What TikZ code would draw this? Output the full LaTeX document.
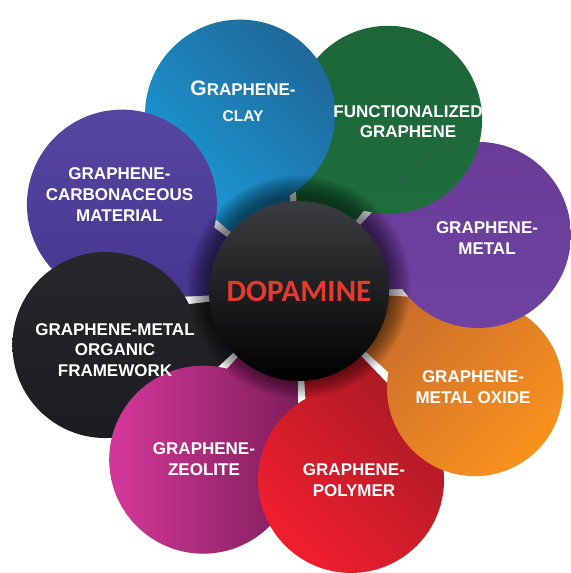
\documentclass[tikz,border=0pt]{standalone}
\usepackage{fontspec}
\setmainfont{Liberation Sans}
\newfontfamily\hubfont{Carlito}

\definecolor{clayT}{HTML}{1F6A9C}
\definecolor{clayB}{HTML}{1AA4E2}
\definecolor{greenT}{HTML}{1C6638}
\definecolor{greenB}{HTML}{207040}
\definecolor{metalT}{HTML}{6A3C98}
\definecolor{metalB}{HTML}{6E42A0}
\definecolor{oxideT}{HTML}{C0682E}
\definecolor{oxideB}{HTML}{F8901E}
\definecolor{polyT}{HTML}{981A22}
\definecolor{polyB}{HTML}{EE1E2E}
\definecolor{zeoT}{HTML}{7E1E5A}
\definecolor{zeoB}{HTML}{D4389A}
\definecolor{mofT}{HTML}{26272A}
\definecolor{mofB}{HTML}{1B1C1F}
\definecolor{carbT}{HTML}{5546A0}
\definecolor{carbB}{HTML}{463690}
\definecolor{hubred}{HTML}{E63A2E}
\definecolor{hubtop}{HTML}{3C3D40}

\tikzset{
  lbl/.style={text=white, font=\bfseries\fontsize{17}{20.8}\selectfont, align=center, inner sep=0pt},
  hub/.style={circle, minimum size=180pt, inner sep=0pt, top color=hubtop, bottom color=black,
    text=hubred, font=\hubfont\bfseries\fontsize{31}{31}\selectfont},
}

\begin{document}
\begin{tikzpicture}[x=1pt,y=1pt]
  % page
  \fill[white] (0,0) rectangle (568,573);
  \coordinate (cen) at (299,282);
  % eight petals, each one over its clockwise neighbour
  % blob angle / distance / radius / clockwise edge / top colour / bottom colour / shading angle
  \foreach \ang/\dist/\rad/\cw/\ca/\cb/\sa [count=\i] in {
      62.5/193/94/51.1/greenT/greenB/0,
      108.5/186/95/95.6/clayT/clayB/-45,
      154/197/95/143.2/carbT/carbB/0,
      -164.4/201/93/-173.2/mofT/mofB/0,
      -119.6/194/94/-132.8/zeoT/zeoB/-90,
      -74.6/196/93/-86.6/polyT/polyB/-45,
      -28.9/201/88/-42.3/oxideT/oxideB/45,
      17.4/187.5/93/1.1/metalT/metalB/0}{
    \pgfmathsetmacro\bet{asin(\rad/\dist)}
    \pgfmathsetmacro\tang{\ang+\bet}
    \pgfmathsetmacro\len{\dist*cos(\bet)}
    \edef\petalpath{(0,0) -- (\cw:140) -- (\tang:\len) -- cycle (\ang:\dist) circle[radius=\rad]}
    \shade[top color=\ca, bottom color=\cb, shading angle=\sa, shift={(cen)}] \petalpath;
    \ifnum\i=1 \global\let\firstpath\petalpath \fi
    \ifnum\i=8 \global\let\lastpath\petalpath \fi
  }
  % close the ring: green over the purple one
  \begin{scope}
    \clip[shift={(cen)}] \lastpath;
    \shade[top color=greenT, bottom color=greenB, shading angle=0, shift={(cen)}] \firstpath;
  \end{scope}
  % soft shadow round the hub
  \foreach \s in {1,...,12}
    \fill[black, opacity=0.055] ([yshift=4pt]cen) circle[radius=90+1.8*\s];
  % hub
  \node[hub] (dopamine) at (cen) {DOPAMINE};
  % petal labels
  \node[lbl] (clay) at (243,471.8) {{\fontsize{21}{21}\selectfont G}RAPHENE-\\[6pt]{\fontsize{15.5}{15.5}\selectfont CLAY}};
  \node[lbl] (func) at (408,451.3) {FUNCTIONALIZED\\GRAPHENE};
  \node[lbl] (metal) at (487,335.3) {GRAPHENE-\\METAL};
  \node[lbl] (oxide) at (473,185.8) {GRAPHENE-\\METAL OXIDE};
  \node[lbl] (polymer) at (354,92.5) {GRAPHENE-\\POLYMER};
  \node[lbl] (zeolite) at (204,113.5) {GRAPHENE-\\ZEOLITE};
  \node[lbl] (mof) at (115,223) {GRAPHENE-METAL\\ORGANIC\\FRAMEWORK};
  \node[lbl] (carbon) at (119.5,378.2) {GRAPHENE-\\CARBONACEOUS\\MATERIAL};
\end{tikzpicture}
\end{document}
